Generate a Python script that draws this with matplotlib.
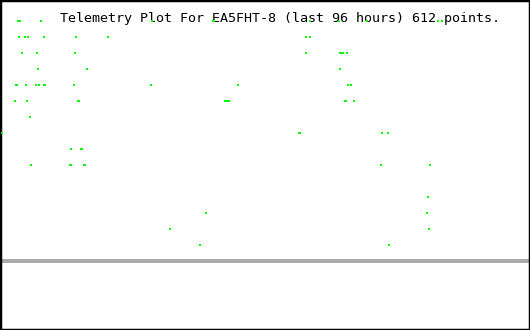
import matplotlib
matplotlib.use('Agg')
import matplotlib.pyplot as plt

# telemetry samples: x position along time axis (pixel columns), channel row index
row0 = [17, 19, 40, 151, 212, 213, 309, 338, 366, 437, 441]
row1 = [18, 24, 27, 43, 75, 107, 305, 309]
row2 = [21, 36, 74, 305, 339, 340, 341, 342, 346]
row3 = [37, 86, 339]
row4 = [15, 16, 25, 35, 38, 43, 44, 73, 150, 237, 347, 350]
row5 = [14, 26, 77, 78, 224, 225, 226, 227, 228, 344, 345, 353]
row6 = [29]
row7 = [1, 298, 299, 381, 387]
row8 = [70, 80, 81]
row9 = [30, 69, 70, 83, 84, 380, 429]
row10 = []
row11 = [427]
row12 = [205, 426]
row13 = [169, 428]
row14 = [199, 388]
rows = [row0, row1, row2, row3, row4, row5, row6, row7, row8, row9,
        row10, row11, row12, row13, row14]

baseline_level = 15
title = "Telemetry Plot For EA5FHT-8 (last 96 hours) 612 points."

fig = plt.figure(figsize=(5.3, 3.3), dpi=100)
ax = fig.add_axes([0, 0, 1, 1])
ax.set_xlim(-0.5, 529.5)
ax.set_ylim(19.3125, -1.3125)

# gray baseline
ax.axhline(baseline_level, color='#aaaaaa', linewidth=1.5, antialiased=False)

# green points, small vertical ticks (drawn over the title like the original)
rect = [(-0.25, -0.5), (0.25, -0.5), (0.25, 0.5), (-0.25, 0.5)]
for k, xs in enumerate(rows):
    if xs:
        ax.scatter(xs, [k] * len(xs), marker=rect, s=3.0, color='#00ff00',
                   linewidths=0, zorder=5)

ax.text(60, 0.06, title, family='DejaVu Sans Mono', fontsize=9.6,
        color='black', va='baseline', ha='left', zorder=2)

ax.set_xticks([])
ax.set_yticks([])
for sp in ax.spines.values():
    sp.set_color('black')
    sp.set_linewidth(2.5)

fig.savefig('out.png', dpi=100, facecolor='white')
